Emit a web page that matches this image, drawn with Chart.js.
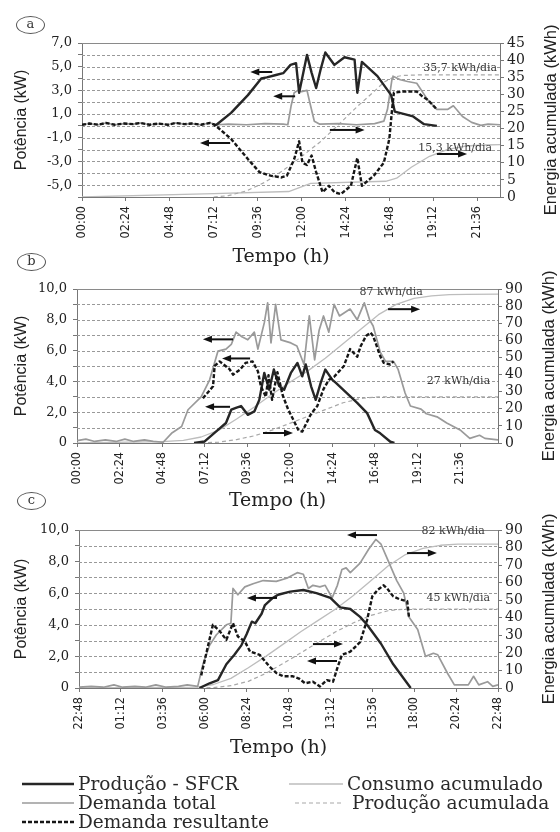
<!DOCTYPE html>
<html lang="pt">
<head>
<meta charset="utf-8">
<title>Potência e energia acumulada</title>
<script src="https://cdn.jsdelivr.net/npm/chart.js@4.4.1/dist/chart.umd.min.js"></script>
<style>
  html, body { margin: 0; padding: 0; background: #fff; }
  #page { position: relative; width: 560px; height: 832px; overflow: hidden; background: #fff; }
  #page canvas { position: absolute; left: 0; top: 0; }
  .tag { position: absolute; width: 27px; height: 16px; border: 1px solid #555; border-radius: 50%;
         font: 13px "DejaVu Serif", serif; color: #333; text-align: center; line-height: 14px; }
  .leg { position: absolute; font: 18.5px "DejaVu Serif", serif; color: #2a2a2a; white-space: nowrap;
         line-height: 20px; height: 20px; }
  .leg svg { position: absolute; top: 0; }
</style>
</head>
<body>
<div id="page">
  <canvas id="chartA" width="560" height="832"></canvas>
  <canvas id="chartB" width="560" height="832"></canvas>
  <canvas id="chartC" width="560" height="832"></canvas>
  <div class="tag" style="left:16px;top:16px;">a</div>
  <div class="tag" style="left:17px;top:253px;">b</div>
  <div class="tag" style="left:17px;top:492px;">c</div>
  <div id="legend"></div>
</div>
<script>
// ---------- time axis labels ----------
const timeLabelsAB = ['00:00', '02:24', '04:48', '07:12', '09:36', '12:00', '14:24', '16:48', '19:12', '21:36'];
const timeLabelsC = ['22:48', '01:12', '03:36', '06:00', '08:24', '10:48', '13:12', '15:36', '18:00', '20:24', '22:48'];

// ---------- power axis labels (kW) ----------
const kwLabelsA = [-5, -3, -1, 1, 3, 5, 7];
const kwLabelsBC = [0, 2, 4, 6, 8, 10];

// ---------- (a) series: [hour, value] ----------
const prodA = [[7.2, 0], [7.35, 0.1], [8.15, 1.1], [9.07, 2.6], [9.8, 4.0], [10.1, 4.1], [10.6, 4.3], [11.0, 4.45],
  [11.4, 5.15], [11.7, 5.3], [11.87, 2.8], [12.1, 4.5], [12.3, 6.0], [12.55, 4.5], [12.8, 3.2], [13.05, 4.8],
  [13.3, 6.2], [13.8, 5.15], [14.35, 5.8], [14.9, 5.6], [15.05, 2.8], [15.3, 5.4], [16.15, 4.2], [16.9, 2.6],
  [17.1, 1.2], [18.1, 0.8], [18.7, 0.15], [19.4, 0.0]];
const demA = [[0, 0.1], [0.4, 0.2], [0.9, 0.1], [1.3, 0.25], [1.8, 0.1], [2.3, 0.2], [2.8, 0.15], [3.2, 0.25],
  [3.7, 0.1], [4.2, 0.2], [4.7, 0.1], [5.1, 0.25], [5.6, 0.15], [6.0, 0.2], [6.5, 0.1], [7.0, 0.25], [7.4, 0.1],
  [8, 0.15], [9, 0.1], [10, 0.2], [11.0, 0.15], [11.25, 0.1], [11.43, 1.7], [11.6, 2.8], [11.8, 3.0], [12.0, 2.9],
  [12.3, 3.0], [12.45, 2.0], [12.7, 0.4], [13.0, 0.15], [14, 0.2], [15, 0.1], [16.0, 0.2], [16.5, 0.4], [16.7, 1.4],
  [16.95, 4.0], [17.0, 4.2], [17.4, 3.9], [17.8, 3.75], [18.3, 3.6], [18.9, 2.2], [19.4, 1.4], [20.0, 1.4],
  [20.3, 1.7], [20.8, 0.8], [21.3, 0.3], [21.8, 0.05], [22.2, 0.15], [22.85, 0.1]];
const resA = [[0, 0.1], [0.4, 0.2], [0.9, 0.1], [1.3, 0.25], [1.8, 0.1], [2.3, 0.2], [2.8, 0.15], [3.2, 0.25],
  [3.7, 0.1], [4.2, 0.2], [4.7, 0.1], [5.1, 0.25], [5.6, 0.15], [6.0, 0.2], [6.5, 0.1], [7.0, 0.25], [7.25, 0.1],
  [8.15, -1.1], [9.07, -2.8], [9.7, -3.9], [10.3, -4.2], [10.9, -4.35], [11.2, -4.2], [11.6, -2.8], [11.87, -1.3],
  [12.05, -3.1], [12.3, -3.3], [12.55, -2.5], [12.8, -3.9], [13.15, -5.6], [13.5, -5.05], [13.8, -5.6],
  [14.15, -5.75], [14.7, -5.05], [15.05, -2.7], [15.3, -5.05], [15.95, -4.2], [16.5, -3.1], [16.8, -1.1],
  [16.95, 1.4], [17.05, 2.8], [17.5, 2.9], [18.3, 2.9], [18.6, 2.5], [18.9, 2.2], [19.4, 1.4]];
const prodAccA = [[7.2, 0], [8, 0.4], [9, 1.8], [10, 4.3], [11, 7.8], [12, 11.8], [13, 16], [14, 21], [15, 26.2],
  [16, 31], [16.5, 33.5], [17, 35], [17.5, 35.5], [18.5, 35.7], [22.85, 35.7]];
const consAccA = [[0, 0], [7.2, 1.0], [11.3, 1.6], [12.5, 4.0], [16.6, 4.6], [17.2, 5.5], [18, 8.7], [19, 11.9],
  [20, 13.9], [21, 14.9], [22, 15.2], [22.85, 15.3]];

// ---------- (b) series ----------
const prodB = [[6.6, 0], [7.2, 0.1], [7.95, 0.85], [8.4, 1.3], [8.7, 2.16], [9.0, 2.3], [9.25, 2.4], [9.63, 1.83],
  [10.0, 2.05], [10.28, 2.8], [10.56, 4.55], [10.84, 3.46], [11.1, 4.77], [11.4, 3.7], [11.68, 3.46], [12.06, 4.55],
  [12.43, 5.2], [12.7, 4.33], [12.9, 5.1], [13.2, 3.68], [13.46, 2.8], [13.74, 3.9], [14.0, 4.77], [14.4, 4.1],
  [14.6, 3.9], [15.2, 3.25], [15.8, 2.6], [16.36, 1.94], [16.8, 0.85], [17.1, 0.63], [17.67, 0.08], [17.9, 0]];
const demB = [[0, 0.15], [0.5, 0.25], [1.0, 0.1], [1.6, 0.2], [2.2, 0.1], [2.7, 0.25], [3.2, 0.1], [3.8, 0.2],
  [4.3, 0.1], [4.86, 0.05], [5.33, 0.63], [5.9, 1.07], [6.26, 2.16], [7.0, 3.0], [7.48, 4.1], [7.95, 5.97],
  [8.4, 6.1], [8.7, 6.4], [8.97, 7.2], [9.3, 6.9], [9.63, 6.7], [10.0, 7.2], [10.2, 6.1], [10.56, 7.8],
  [10.75, 9.1], [10.94, 6.5], [11.2, 9.0], [11.5, 6.7], [12.06, 6.5], [12.4, 6.3], [12.8, 5.1], [13.1, 8.25],
  [13.4, 5.4], [13.65, 7.3], [13.9, 8.25], [14.2, 7.2], [14.5, 9.0], [14.8, 8.25], [15.4, 8.7], [15.8, 8.0],
  [16.2, 9.1], [16.5, 8.0], [16.7, 7.6], [17.1, 5.9], [17.4, 5.3], [17.85, 5.3], [18.1, 4.8], [18.5, 3.25],
  [18.8, 2.4], [19.4, 2.2], [19.7, 1.9], [20.3, 1.7], [20.85, 1.3], [21.6, 0.85], [22.15, 0.3], [22.7, 0.5],
  [23.0, 0.3], [23.74, 0.2]];
const resB = [[7.1, 2.9], [7.67, 3.68], [7.76, 5.0], [8.04, 5.3], [8.6, 4.8], [8.8, 4.44], [9.2, 4.77], [9.5, 5.2],
  [9.9, 5.3], [10.2, 4.66], [10.37, 3.68], [10.65, 3.0], [10.8, 4.4], [11.0, 2.8], [11.3, 4.6], [11.6, 3.1],
  [11.9, 2.2], [12.2, 1.5], [12.5, 0.8], [12.7, 0.74], [12.9, 1.2], [13.2, 1.9], [13.55, 2.4], [13.9, 3.5],
  [14.2, 4.1], [14.5, 4.3], [15.05, 5.0], [15.4, 6.1], [15.8, 5.6], [16.0, 6.3], [16.3, 6.95], [16.55, 7.17],
  [16.7, 6.95], [17.1, 5.64], [17.3, 5.2], [17.67, 5.1], [17.85, 5.3]];
const prodAccB = [[6.6, 0], [8, 0.5], [9, 2], [10, 4.2], [11, 7.5], [12, 11.5], [13, 15.5], [14, 19.5], [15, 23.5],
  [16, 26], [17, 27], [23.74, 27]];
const consAccB = [[0, 0], [4.8, 0.8], [6, 1.5], [7, 3.5], [8, 7.5], [9, 14], [10, 21], [11, 28.5], [12, 35.5],
  [13, 42], [14, 49.5], [15, 58], [16, 66.5], [17, 75], [18, 81], [19, 84.5], [20, 86], [21, 86.7], [22, 86.9],
  [23.74, 87]];

// ---------- (c) series ----------
const prodC = [[5.7, 0], [6.28, 0.3], [6.76, 0.5], [7.24, 1.5], [7.7, 2.1], [8.1, 2.7], [8.4, 3.4], [8.7, 4.2],
  [8.9, 4.1], [9.26, 4.7], [9.45, 5.25], [9.9, 5.7], [10.2, 5.9], [10.9, 6.1], [11.65, 6.2], [12.4, 6.0],
  [13.2, 5.7], [13.76, 5.1], [14.34, 5.0], [14.9, 4.5], [15.3, 4.0], [16.1, 2.8], [16.8, 1.5], [17.6, 0.3],
  [17.8, 0]];
const demC = [[-1.2, 0.05], [-0.5, 0.1], [0.2, 0.05], [0.8, 0.2], [1.3, 0.05], [2, 0.1], [2.6, 0.05], [3.2, 0.2],
  [3.8, 0.05], [4.5, 0.1], [5.0, 0.2], [5.6, 0.1], [5.9, 1.5], [6.28, 2.7], [6.67, 3.37], [7.24, 4.0], [7.5, 4.1],
  [7.62, 6.3], [7.9, 5.9], [8.3, 6.4], [8.77, 6.6], [9.35, 6.8], [10.1, 6.75], [10.7, 6.95], [11.3, 7.3],
  [11.65, 7.2], [11.94, 6.3], [12.2, 6.5], [12.6, 6.4], [12.9, 6.5], [13.3, 5.7], [13.6, 6.5], [13.86, 7.5],
  [14.1, 7.6], [14.34, 7.3], [14.9, 7.9], [15.4, 8.8], [15.8, 9.4], [16.1, 9.1], [16.45, 8.2], [17.0, 6.8],
  [17.4, 6.0], [17.7, 4.5], [18.2, 3.7], [18.65, 2.0], [19.1, 2.2], [19.35, 2.1], [19.9, 0.95], [20.3, 0.2],
  [21.1, 0.2], [21.4, 0.74], [21.7, 0.2], [22.2, 0.4], [22.5, 0.1], [22.8, 0.2]];
const resC = [[5.8, 0.8], [6.47, 4.0], [6.86, 3.6], [7.24, 3.05], [7.62, 4.1], [7.9, 3.26], [8.3, 2.95], [8.6, 2.3],
  [9.15, 2.1], [9.45, 1.7], [9.7, 1.37], [10.1, 0.95], [10.5, 0.74], [11.05, 0.74], [11.4, 0.6], [11.75, 0.3],
  [12.2, 0.4], [12.6, 0.1], [13.0, 0.5], [13.35, 0.4], [13.6, 1.27], [13.86, 2.1], [14.34, 2.3], [14.9, 2.9],
  [15.3, 4.3], [15.6, 5.8], [15.9, 6.2], [16.25, 6.5], [16.45, 6.3], [16.8, 5.8], [17.2, 5.6], [17.6, 5.5],
  [17.7, 4.5]];
const prodAccC = [[5.7, 0], [6.5, 0.2], [7.5, 1.3], [8.5, 3.8], [9.5, 8.3], [10.5, 14], [11.5, 20], [12.5, 26],
  [13.5, 32], [14.5, 37], [15.5, 41.3], [16.5, 44], [17.5, 45], [22.8, 45]];
const consAccC = [[-1.2, 0], [5.6, 0.5], [6.5, 2], [7.5, 5.5], [8.5, 11.5], [9.5, 18], [10.5, 25], [11.5, 32],
  [12.5, 38.5], [13.5, 45], [14.5, 52.5], [15.5, 61], [16.5, 69.5], [17.5, 76], [18.5, 79.5], [19.5, 81.3],
  [20.5, 82], [22.8, 82]];

// ---------- helpers ----------
const INK = '#222';
const SERIF = '"DejaVu Serif", "Liberation Serif", serif';
const SANS = '"Liberation Sans", Arial, sans-serif';
const NARROW = '"Liberation Sans Narrow", "DejaVu Sans Condensed", "Liberation Sans", sans-serif';

const toPts = arr => arr.map(([x, y]) => ({ x, y }));
const last = arr => arr[arr.length - 1][1];
const decimal = v => String(v).replace('.', ',');
const kwLabel = v => (v === 0 ? '0' : v.toFixed(1).replace('.', ','));

function labelHours(labels) {
  const hrs = labels.map(s => { const [h, m] = s.split(':').map(Number); return h + m / 60; });
  if (hrs.length > 1 && hrs[0] > hrs[1]) hrs[0] -= 24;   // first label belongs to the previous day
  return hrs;
}

// line styles shared by the three panels
const STYLE = {
  res:     { borderColor: '#161616', borderWidth: 2.4, borderDash: [4, 2] },
  prod:    { borderColor: '#262626', borderWidth: 2.4 },
  dem:     { borderColor: '#9a9a9a', borderWidth: 1.7 },
  prodAcc: { borderColor: '#a8a8a8', borderWidth: 1.2, borderDash: [4, 3] },
  consAcc: { borderColor: '#bdbdbd', borderWidth: 1.3 }
};

// gridlines, arrows, daily-total notes and the axis titles
const panelDecor = {
  id: 'panelDecor',
  beforeDatasetsDraw(chart) {
    const { ctx, chartArea: a, scales: { y } } = chart;
    ctx.save();
    ctx.lineWidth = 1;
    for (let v = Math.ceil(y.min) + 1; v <= y.max; v++) {
      const py = Math.round(y.getPixelForValue(v)) + 0.5;
      if (v === y.max) { ctx.setLineDash([]); ctx.strokeStyle = '#8a8a8a'; }
      else { ctx.setLineDash([3, 2]); ctx.strokeStyle = '#999'; }
      ctx.beginPath(); ctx.moveTo(a.left, py); ctx.lineTo(a.right, py); ctx.stroke();
    }
    ctx.restore();
  },
  afterDraw(chart, args, opts) {
    const { ctx, chartArea: a, scales: { x, y } } = chart;
    ctx.save();
    ctx.strokeStyle = '#111'; ctx.fillStyle = '#111'; ctx.lineWidth = 2;
    for (const [h0, h1, v, dir] of opts.arrows) {
      const x0 = x.getPixelForValue(h0), x1 = x.getPixelForValue(h1), py = y.getPixelForValue(v);
      const tip = dir < 0 ? x0 : x1, tail = dir < 0 ? x1 : x0;
      ctx.beginPath(); ctx.moveTo(tail, py); ctx.lineTo(tip - dir * 6, py); ctx.stroke();
      ctx.beginPath(); ctx.moveTo(tip, py); ctx.lineTo(tip - dir * 9, py - 3.5); ctx.lineTo(tip - dir * 9, py + 3.5);
      ctx.closePath(); ctx.fill();
    }
    ctx.fillStyle = '#3a3a3a';
    ctx.font = '11px ' + SERIF;
    ctx.textAlign = 'right'; ctx.textBaseline = 'middle';
    for (const n of opts.notes) {
      ctx.fillText(n.text, x.getPixelForValue(n.h), y.getPixelForValue(n.v));
    }
    // horizontal axis title
    ctx.fillStyle = INK; ctx.font = '19px ' + SERIF; ctx.textAlign = 'center';
    ctx.fillText('Tempo (h)', (a.left + a.right) / 2 - 10, opts.titleY);
    // right axis title, read bottom to top
    ctx.translate(a.right + 51, (a.top + a.bottom) / 2);
    ctx.rotate(-Math.PI / 2);
    ctx.fillStyle = INK; ctx.font = '16.5px ' + SANS;
    ctx.fillText('Energia acumulada (kWh)', 0, 0);
    ctx.restore();
  }
};

function makePanel(id, p) {
  const tickHours = labelHours(p.timeLabels);
  const ds = (label, arr, st, axis) => Object.assign({
    label, data: toPts(arr), yAxisID: axis, pointRadius: 0, tension: 0, fill: false,
    borderJoinStyle: 'round', borderCapStyle: 'butt'
  }, st);
  return new Chart(document.getElementById(id), {
    type: 'line',
    data: {
      datasets: [
        ds('Demanda resultante', p.res, STYLE.res, 'y'),
        ds('Produção - SFCR', p.prod, STYLE.prod, 'y'),
        ds('Demanda total', p.dem, STYLE.dem, 'y'),
        ds('Produção acumulada', p.prodAcc, STYLE.prodAcc, 'y2'),
        ds('Consumo acumulado', p.consAcc, STYLE.consAcc, 'y2')
      ]
    },
    plugins: [panelDecor],
    options: {
      responsive: false, animation: false, events: [],
      layout: { padding: { top: p.area.top, left: 0, right: 0, bottom: 832 - p.xBottom } },
      plugins: {
        legend: { display: false }, tooltip: { enabled: false },
        panelDecor: { arrows: p.arrows, notes: p.notes, titleY: p.titleY }
      },
      scales: {
        x: {
          type: 'linear', min: p.xMin, max: p.xMax,
          afterFit: s => { s.height = p.xBottom - p.area.bottom; },
          afterBuildTicks: s => { s.ticks = tickHours.map(v => ({ value: v })); },
          ticks: {
            autoSkip: false, minRotation: 90, maxRotation: 90, padding: 5, color: INK,
            font: { family: NARROW, size: 12.5 },
            callback: (v, i) => p.timeLabels[i]
          },
          grid: { drawOnChartArea: false, drawTicks: true, tickLength: 4, color: '#777' },
          border: { color: '#777', width: 1 }
        },
        y: {
          position: 'left', min: p.yMin, max: p.yMax,
          afterFit: s => { s.width = p.area.left; },
          afterBuildTicks: s => {
            const t = [];
            for (let v = p.yMin; v <= p.yMax; v++) t.push({ value: v });
            s.ticks = t;
          },
          ticks: {
            autoSkip: false, padding: 6, color: INK, font: { family: SERIF, size: 13 },
            callback: v => (p.kwLabels.includes(v) ? kwLabel(v) : '')
          },
          grid: { drawOnChartArea: false, drawTicks: true, tickLength: 4, color: '#777' },
          border: { color: '#777', width: 1 },
          title: { display: true, text: 'Potência (kW)', color: INK, padding: { top: 12, bottom: 0 },
                   font: { family: SANS, size: 16 } }
        },
        y2: {
          position: 'right', min: 0, max: p.y2Max,
          afterFit: s => { s.width = 560 - p.area.right; },
          ticks: { stepSize: p.y2Step, autoSkip: false, padding: 3, color: INK, font: { family: SERIF, size: 14 } },
          grid: { drawOnChartArea: false, drawTicks: true, tickLength: 4, color: '#777' },
          border: { color: '#777', width: 1 }
        }
      }
    }
  });
}

const note = (series, h, v) => ({ text: decimal(last(series)) + ' kWh/dia', h, v });

makePanel('chartA', {
  area: { left: 82, right: 500, top: 43, bottom: 197 }, xBottom: 240, titleY: 257,
  xMin: 0, xMax: 22.85, yMin: -6, yMax: 7, y2Max: 45, y2Step: 5,
  timeLabels: timeLabelsAB, kwLabels: kwLabelsA,
  res: resA, prod: prodA, dem: demA, prodAcc: prodAccA, consAcc: consAccA,
  arrows: [[9.2, 10.4, 4.55, -1], [10.45, 11.65, 2.5, -1], [6.45, 8.1, -1.44, -1],
           [13.55, 15.45, -0.34, 1], [19.4, 21.05, -2.37, 1]],
  notes: [note(prodAccA, 22.69, 4.89), note(consAccA, 22.42, -1.9)]
});

makePanel('chartB', {
  area: { left: 77, right: 498, top: 289, bottom: 443 }, xBottom: 486, titleY: 501,
  xMin: 0, xMax: 23.74, yMin: 0, yMax: 10, y2Max: 90, y2Step: 10,
  timeLabels: timeLabelsAB, kwLabels: kwLabelsBC,
  res: resB, prod: prodB, dem: demB, prodAcc: prodAccB, consAcc: consAccB,
  arrows: [[7.1, 8.8, 6.73, -1], [8.18, 9.76, 5.49, -1], [7.22, 8.63, 2.35, -1],
           [17.54, 19.35, 8.69, 1], [10.49, 12.18, 0.65, 1]],
  notes: [note(consAccB, 19.5, 9.8), note(prodAccB, 23.3, 4.0)]
});

makePanel('chartC', {
  area: { left: 79, right: 498, top: 530, bottom: 688 }, xBottom: 735, titleY: 748,
  xMin: -1.2, xMax: 22.8, yMin: 0, yMax: 10, y2Max: 90, y2Step: 10,
  timeLabels: timeLabelsC, kwLabels: kwLabelsBC,
  res: resC, prod: prodC, dem: demC, prodAcc: prodAccC, consAcc: consAccC,
  arrows: [[14.15, 15.87, 9.68, -1], [17.59, 19.3, 8.54, 1], [8.42, 10.14, 5.7, -1],
           [12.2, 13.92, 2.78, 1], [11.86, 13.58, 1.71, -1]],
  notes: [note(consAccC, 22.05, 9.94), note(prodAccC, 22.34, 5.7)]
});

// ---------- legend ----------
const legendItems = [
  { text: 'Produção - SFCR', style: STYLE.prod, lx: 22, lw: 52, tx: 78, y: 784 },
  { text: 'Demanda total', style: STYLE.dem, lx: 22, lw: 52, tx: 78, y: 803 },
  { text: 'Demanda resultante', style: STYLE.res, lx: 22, lw: 52, tx: 78, y: 822 },
  { text: 'Consumo acumulado', style: STYLE.consAcc, lx: 289, lw: 54, tx: 347, y: 784 },
  { text: 'Produção acumulada', style: STYLE.prodAcc, lx: 295, lw: 48, tx: 352, y: 803 }
];
const legend = document.getElementById('legend');
for (const it of legendItems) {
  const dash = it.style.borderDash ? ` stroke-dasharray="${it.style.borderDash.join(' ')}"` : '';
  const sw = document.createElement('div');
  sw.className = 'leg';
  sw.style.left = it.lx + 'px'; sw.style.top = (it.y - 10) + 'px'; sw.style.width = it.lw + 'px';
  sw.innerHTML = `<svg width="${it.lw}" height="20"><line x1="0" y1="10" x2="${it.lw}" y2="10" stroke="${it.style.borderColor}" stroke-width="${it.style.borderWidth}"${dash}/></svg>`;
  legend.appendChild(sw);
  const tx = document.createElement('div');
  tx.className = 'leg';
  tx.style.left = it.tx + 'px'; tx.style.top = (it.y - 10) + 'px';
  tx.textContent = it.text;
  legend.appendChild(tx);
}
</script>
</body>
</html>
